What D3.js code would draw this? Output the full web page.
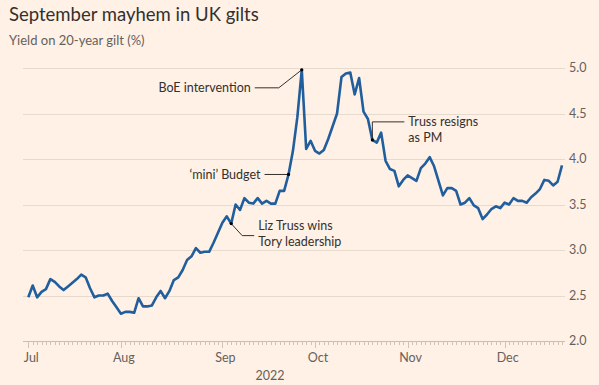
<!DOCTYPE html>
<html>
<head>
<meta charset="utf-8">
<script src="https://cdn.jsdelivr.net/npm/d3@7"></script>
<style>
  html, body { margin: 0; padding: 0; background: #fff1e5; }
  svg { display: block; }
  text { font-family: Lato, 'Noto Sans', sans-serif; }
</style>
</head>
<body>
<svg id="chart" width="599" height="385"></svg>
<script>
// trading days: weekdays from 1 Jul to 20 Dec 2022, UK holiday removed
const startDay = new Date(2022, 6, 1);
const endDay = new Date(2022, 11, 21);
const holidays = ['2022-09-19'];

// yield on 20-year gilt, %, one value per trading day
const yields = [
  2.48, 2.61, 2.48, 2.54, 2.57, 2.68, 2.65, 2.60, 2.56, 2.60,
  2.64, 2.68, 2.73, 2.70, 2.58, 2.48, 2.50, 2.50, 2.52, 2.44,
  2.37, 2.30, 2.32, 2.32, 2.31, 2.47, 2.38, 2.38, 2.39, 2.48,
  2.55, 2.47, 2.55, 2.67, 2.70, 2.78, 2.89, 2.93, 3.02, 2.97,
  2.98, 2.98, 3.08, 3.19, 3.30, 3.37, 3.29, 3.50, 3.44, 3.57,
  3.52, 3.51, 3.57, 3.51, 3.54, 3.51, 3.51, 3.65, 3.65, 3.83,
  4.09, 4.46, 4.98, 4.11, 4.20, 4.09, 4.06, 4.10, 4.22, 4.36,
  4.50, 4.90, 4.94, 4.95, 4.71, 4.89, 4.52, 4.44, 4.21, 4.18,
  4.29, 3.98, 3.89, 3.87, 3.70, 3.77, 3.82, 3.79, 3.76, 3.90,
  3.95, 4.02, 3.92, 3.76, 3.60, 3.68, 3.68, 3.65, 3.50, 3.52,
  3.57, 3.49, 3.46, 3.34, 3.39, 3.45, 3.48, 3.46, 3.52, 3.50,
  3.57, 3.54, 3.54, 3.52, 3.58, 3.62, 3.67, 3.77, 3.76, 3.71,
  3.75, 3.93,
];

const yTicks = [2.0, 2.5, 3.0, 3.5, 4.0, 4.5, 5.0];
const monthNames = ['Jul', 'Aug', 'Sep', 'Oct', 'Nov', 'Dec'];
const yearLabel = '2022';

// events: trading day, label lines
const events = [
  { date: '2022-09-05', lines: ['Liz Truss wins', 'Tory leadership'] },
  { date: '2022-09-23', lines: ['\u2018mini\u2019 Budget'] },
  { date: '2022-09-28', lines: ['BoE intervention'] },
  { date: '2022-10-20', lines: ['Truss resigns', 'as PM'] },
];

const fmt = d3.timeFormat('%Y-%m-%d');
const days = d3.timeDay.range(startDay, endDay)
  .filter((d) => d.getDay() !== 0 && d.getDay() !== 6 && !holidays.includes(fmt(d)));
const data = days.map((d, i) => ({ date: d, i, v: yields[i] }));

const svg = d3.select('#chart');
const ink = '#33302e';
const grey = '#66605c';

const x = d3.scaleLinear().domain([0, data.length - 1]).range([28.3, 562]);
const y = d3.scaleLinear().domain([2, 5]).range([341, 68]);

// titles
svg.append('text')
  .attr('x', 9).attr('y', 21)
  .attr('font-size', 18.5)
  .attr('fill', ink)
  .text('September mayhem in UK gilts');

svg.append('text')
  .attr('x', 9).attr('y', 45)
  .attr('font-size', 13)
  .attr('fill', grey)
  .text('Yield on 20-year gilt (%)');

// gridlines + right labels
const grid = svg.append('g');
grid.selectAll('line')
  .data(yTicks.slice(1))
  .enter()
  .append('line')
  .attr('x1', 23).attr('x2', 565)
  .attr('y1', (d) => Math.round(y(d)) + 0.5)
  .attr('y2', (d) => Math.round(y(d)) + 0.5)
  .attr('stroke', '#e6d9ce')
  .attr('stroke-width', 1);

grid.selectAll('text')
  .data(yTicks)
  .enter()
  .append('text')
  .attr('x', 569)
  .attr('y', (d) => y(d))
  .attr('dy', '0.35em')
  .attr('font-size', 12.5)
  .attr('fill', grey)
  .text((d) => d.toFixed(1));

// x axis: a small tick per trading day, longer one at month start
const monthStarts = data.filter((d, i) => i === 0 || d.date.getMonth() !== data[i - 1].date.getMonth());

const xAxis = svg.append('g');
xAxis.append('line')
  .attr('x1', 23).attr('x2', 565)
  .attr('y1', Math.round(y(2)) + 0.5).attr('y2', Math.round(y(2)) + 0.5)
  .attr('stroke', '#c9bdb2');

xAxis.selectAll('.tick')
  .data(data)
  .enter()
  .append('line')
  .attr('class', 'tick')
  .attr('x1', (d) => Math.round(x(d.i)) + 0.5)
  .attr('x2', (d) => Math.round(x(d.i)) + 0.5)
  .attr('y1', Math.round(y(2)))
  .attr('y2', (d) => Math.round(y(2)) + (monthStarts.includes(d) ? 7 : 4))
  .attr('stroke', '#cfc3b8');

xAxis.selectAll('.month')
  .data(monthStarts)
  .enter()
  .append('text')
  .attr('class', 'month')
  .attr('x', (d) => x(d.i) + 3)
  .attr('y', 362)
  .attr('text-anchor', 'middle')
  .attr('font-size', 12.5)
  .attr('fill', grey)
  .text((d, i) => monthNames[i]);

xAxis.append('text')
  .attr('x', 270).attr('y', 380)
  .attr('text-anchor', 'middle')
  .attr('font-size', 12.5)
  .attr('fill', grey)
  .text(yearLabel);

// the yield line
const line = d3.line()
  .x((d) => x(d.i))
  .y((d) => y(d.v));

svg.append('path')
  .datum(data)
  .attr('d', line)
  .attr('fill', 'none')
  .attr('stroke', '#215e9e')
  .attr('stroke-width', 2.6)
  .attr('stroke-linejoin', 'round');

// annotations
const pt = (ev) => data.find((d) => fmt(d.date) === ev.date);
const ann = svg.append('g')
  .attr('font-size', 12.5)
  .attr('fill', ink);

const leader = (pts) => ann.append('path')
  .attr('d', d3.line()(pts))
  .attr('fill', 'none')
  .attr('stroke', ink)
  .attr('stroke-width', 1);

// Liz Truss wins
let p = pt(events[0]);
let px = x(p.i);
let py = y(p.v);
leader([[px, py], [px + 11, py + 12], [px + 23, py + 12]]);
ann.append('text').attr('x', px + 27).attr('y', py + 6).text(events[0].lines[0]);
ann.append('text').attr('x', px + 27).attr('y', py + 22).text(events[0].lines[1]);
ann.append('circle').attr('cx', px).attr('cy', py).attr('r', 1.6).attr('fill', '#000');

// mini budget
p = pt(events[1]);
px = x(p.i);
py = y(p.v);
leader([[px, py], [px - 24, py]]);
ann.append('text').attr('x', px - 28).attr('y', py).attr('dy', '0.35em')
  .attr('text-anchor', 'end').text(events[1].lines[0]);
ann.append('circle').attr('cx', px).attr('cy', py).attr('r', 1.6).attr('fill', '#000');

// BoE intervention
p = pt(events[2]);
px = x(p.i);
py = y(p.v);
leader([[px, py], [px - 23, py + 18], [px - 47, py + 18]]);
ann.append('text').attr('x', px - 51).attr('y', py + 18).attr('dy', '0.35em')
  .attr('text-anchor', 'end').text(events[2].lines[0]);
ann.append('circle').attr('cx', px).attr('cy', py).attr('r', 1.6).attr('fill', '#000');

// Truss resigns
p = pt(events[3]);
px = x(p.i);
py = y(p.v);
leader([[px, py], [px, py - 18], [px + 32, py - 18]]);
ann.append('text').attr('x', px + 36).attr('y', py - 18).attr('dy', '0.35em').text(events[3].lines[0]);
ann.append('text').attr('x', px + 36).attr('y', py - 2).attr('dy', '0.35em').text(events[3].lines[1]);
ann.append('circle').attr('cx', px).attr('cy', py).attr('r', 1.6).attr('fill', '#000');
</script>
</body>
</html>
